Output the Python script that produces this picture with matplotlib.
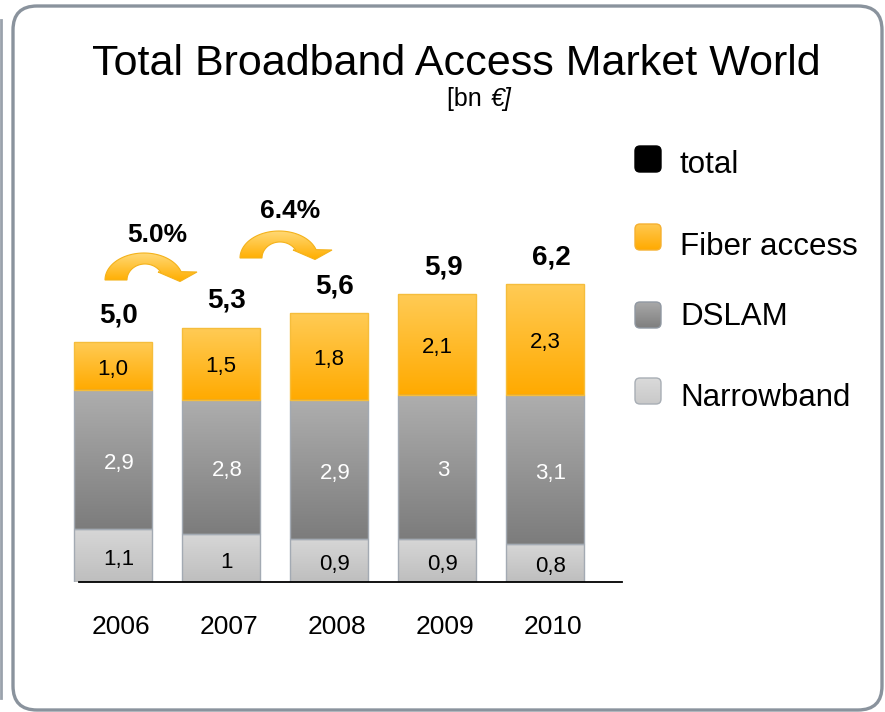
import matplotlib
matplotlib.use('Agg')
import matplotlib.pyplot as plt
import numpy as np
from matplotlib.patches import FancyBboxPatch, Polygon
from matplotlib.colors import LinearSegmentedColormap
from matplotlib.transforms import ScaledTranslation
from matplotlib.lines import Line2D

# ---------------- data ----------------
years = ['2006', '2007', '2008', '2009', '2010']
narrowband = [1.1, 1.0, 0.9, 0.9, 0.8]
dslam = [2.9, 2.8, 2.9, 3.0, 3.1]
fiber = [1.0, 1.5, 1.8, 2.1, 2.3]
totals = [5.0, 5.3, 5.6, 5.9, 6.2]
growth_labels = ['5.0%', '6.4%']
series_names = ['total', 'Fiber access', 'DSLAM', 'Narrowband']

plt.rcParams['font.family'] = ['Liberation Sans', 'DejaVu Sans']

W, H = 885, 712
fig = plt.figure(figsize=(W / 100, H / 100), dpi=100)


def fx(px):
    return px / W


def fy(py):
    return 1 - py / H


def shift(dx_px, dy_px=0):
    return ScaledTranslation(dx_px / 100, dy_px / 100, fig.dpi_scale_trans)


# ---------------- main axes ----------------
ax = fig.add_axes([fx(59), fy(582), (622 - 59) / W, (582 - 140) / H])
xmin, xmax = -0.5, -0.5 + (622 - 59) / 108
ymax = (582 - 140) / 48
x = np.arange(len(years))
bw = 78 / 108

cm_nb = LinearSegmentedColormap.from_list('nb', ['#BEBEBE', '#D7D7D7'])
cm_ds = LinearSegmentedColormap.from_list('ds', ['#7C7C7C', '#AEAEAE'])
cm_fi = LinearSegmentedColormap.from_list('fi', ['#FFAA00', '#FFCB55'])
cm_ar = LinearSegmentedColormap.from_list('ar', ['#FFAE00', '#FFDA7A'])
grad = np.linspace(0, 1, 256).reshape(-1, 1)


def grad_fill(axis, patch, cmap, extent):
    im = axis.imshow(grad, cmap=cmap, extent=extent, origin='lower',
                     aspect='auto', zorder=patch.get_zorder() - 0.5,
                     interpolation='bicubic')
    im.set_clip_path(patch)
    patch.set_facecolor('none')


def grad_bars(bars, cmap):
    for p in bars:
        x0, y0, w, h = p.get_x(), p.get_y(), p.get_width(), p.get_height()
        grad_fill(ax, p, cmap, [x0, x0 + w, y0, y0 + h])


b_nb = ax.bar(x, narrowband, bw, color='#CCCCCC', edgecolor='#A3AAB3', linewidth=1.0, zorder=3)
bot2 = np.array(narrowband)
b_ds = ax.bar(x, dslam, bw, bottom=bot2, color='#959595', edgecolor='#A3AAB3', linewidth=1.0, zorder=3)
bot3 = bot2 + np.array(dslam)
b_fi = ax.bar(x, fiber, bw, bottom=bot3, color='#FFBB30', edgecolor='#F5BD3C', linewidth=1.0, zorder=3)
tops = bot3 + np.array(fiber)

grad_bars(b_nb, cm_nb)
grad_bars(b_ds, cm_ds)
grad_bars(b_fi, cm_fi)

fmt = lambda v: ('%g' % v).replace('.', ',')
off_seg = ax.transData + shift(6, -4)
off_fib = ax.transData + shift(0, -3)
off_tot = ax.transData + shift(6)

for i in range(len(years)):
    ax.text(x[i], narrowband[i] / 2, fmt(narrowband[i]), ha='center', va='center',
            fontsize=16, color='black', zorder=5, transform=off_seg)
    ax.text(x[i], bot2[i] + dslam[i] / 2, fmt(dslam[i]), ha='center', va='center',
            fontsize=16, color='white', zorder=5, transform=off_seg)
    ax.text(x[i], bot3[i] + fiber[i] / 2, ('%.1f' % fiber[i]).replace('.', ','),
            ha='center', va='center', fontsize=16, color='black', zorder=5,
            transform=off_fib)
    ax.text(x[i], tops[i] + 0.56, ('%.1f' % totals[i]).replace('.', ','),
            ha='center', va='center', fontsize=20, fontweight='bold', color='black',
            zorder=5, transform=off_tot)

ax.set_xlim(xmin, xmax)
ax.set_ylim(0, ymax)
ax.set_xticks(x)
ax.set_xticklabels(years, fontsize=19)
ax.tick_params(axis='x', length=0, pad=24)
for lab in ax.get_xticklabels():
    lab.set_transform(lab.get_transform() + shift(8))
ax.set_yticks([])
for s in ['left', 'right', 'top']:
    ax.spines[s].set_visible(False)
ax.spines['bottom'].set_bounds((79 - 113) / 108, xmax)
ax.spines['bottom'].set_linewidth(1.3)
ax.spines['bottom'].set_zorder(6)
ax.patch.set_visible(False)

# ---------------- overlay axes in pixel coordinates ----------------
ov = fig.add_axes([0, 0, 1, 1])
ov.set_xlim(0, W)
ov.set_ylim(H, 0)
ov.axis('off')
ov.patch.set_visible(False)


def arrow_shape(dx, dy):
    t_out = np.linspace(np.pi, np.radians(18), 50)
    outer = np.c_[144 + 39 * np.cos(t_out), 280 - 27 * np.sin(t_out)]
    t_in = np.linspace(np.radians(28), np.pi, 40)
    inner = np.c_[145 + 18 * np.cos(t_in), 280 - 16 * np.sin(t_in)]
    head = np.array([(197, 272), (180, 281.5), (158, 272)])
    return np.vstack([outer, head, inner]) + np.array([dx, dy])


growth_pos = [(157, 235), (290, 211)]
arrow_shift = [(0, 0), (135, -22)]
for lbl, (gx, gy), (dx, dy) in zip(growth_labels, growth_pos, arrow_shift):
    ov.text(gx, gy, lbl, ha='center', va='center', fontsize=19, fontweight='bold')
    pts = arrow_shape(dx, dy)
    poly = Polygon(pts, closed=True, facecolor='#FFBC2E', edgecolor='#F4B21A',
                   linewidth=0.8, zorder=3)
    ov.add_patch(poly)
    grad_fill(ov, poly, cm_ar, [pts[:, 0].min(), pts[:, 0].max(),
                                pts[:, 1].max(), pts[:, 1].min()])

# title
ov.text(456, 75, 'Total Broadband Access Market World', ha='center', va='baseline',
        fontsize=31)
ov.text(447, 106, '[bn ', ha='left', va='baseline', fontsize=18)
ov.text(491, 106, '€]', ha='left', va='baseline', fontsize=18, style='italic')

# legend
leg_cmaps = [None, LinearSegmentedColormap.from_list('lf', ['#FFAA00', '#FFC850']),
             LinearSegmentedColormap.from_list('ld', ['#7E7E7E', '#A9A9A9']),
             LinearSegmentedColormap.from_list('ln', ['#C9C9C9', '#DADADA'])]
leg_edges = ['#000000', '#F5B030', '#9098A2', '#A8AEB5']
leg_sq_top = [146, 224, 302, 378]
leg_base = [173, 255, 325, 406]
for name, cmap, ec, st, lb in zip(series_names, leg_cmaps, leg_edges, leg_sq_top, leg_base):
    sq = FancyBboxPatch((635, st), 26, 26, boxstyle='round,pad=0,rounding_size=5',
                        facecolor='#000000', edgecolor=ec, linewidth=1.0, zorder=3)
    ov.add_patch(sq)
    if cmap is not None:
        grad_fill(ov, sq, cmap, [635, 661, st + 26, st])
    ov.text(680, lb, name, ha='left', va='baseline', fontsize=22.5)

# frame
frame = FancyBboxPatch((13, 6), 869, 704, boxstyle='round,pad=0,rounding_size=24',
                       facecolor='none', edgecolor='#8A939D', linewidth=2.4, zorder=4)
ov.add_patch(frame)
ov.add_line(Line2D([1.2, 1.2], [20, 698], color='#9AA2AC', linewidth=2.0))

ov.set_xlim(0, W)
ov.set_ylim(H, 0)

fig.savefig('out.png', dpi=100)
